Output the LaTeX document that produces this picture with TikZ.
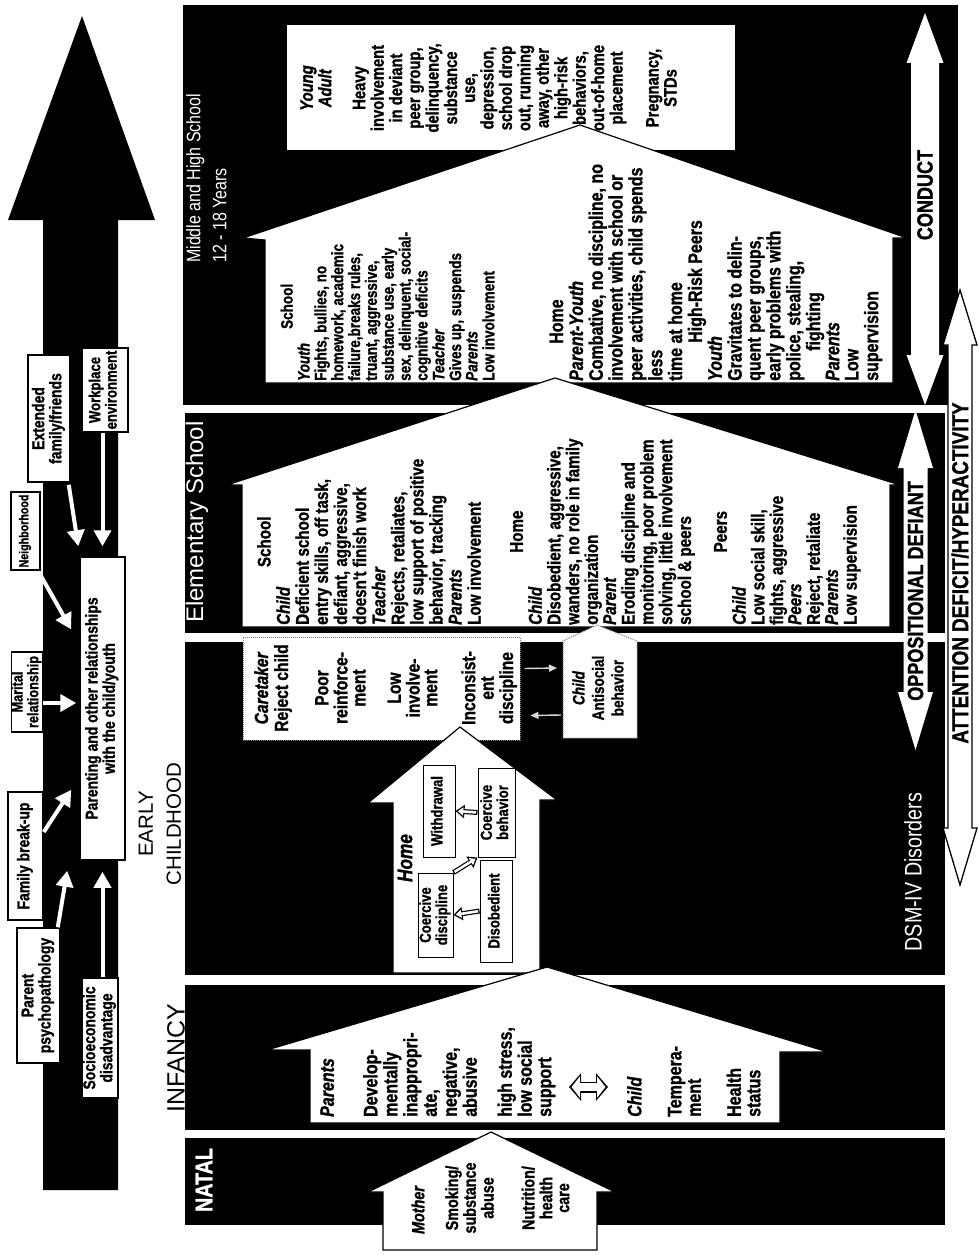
\documentclass[tikz,border=0pt]{standalone}
\usepackage{fontspec}
\setmainfont{Liberation Sans}
\newfontfamily\nar[FakeStretch=0.82,BoldFeatures={FakeBold=1.2},BoldItalicFeatures={FakeBold=1.2}]{Liberation Sans}
\usepackage{graphicx}
\usetikzlibrary{arrows.meta,calc}

% rotated, centred label used inside the framed boxes
\newcommand\rt[1]{\rotatebox{90}{\begin{tabular}{@{}c@{}}#1\end{tabular}}}
% text block: size, leading, column type, rows
\newcommand\tbl[4]{{\fontsize{#1}{#2}\selectfont\begin{tabular}{@{}#3@{}}#4\end{tabular}}}
\newcommand\hd[1]{\multicolumn{1}{@{}c@{}}{#1}}
\newcommand\who[1]{\textit{#1}}

\begin{document}
\begin{tikzpicture}[x=1pt,y=-1pt,
  fbox/.style={draw=black,line width=1.5pt,fill=white,inner sep=0pt,
    font=\nar\bfseries\fontsize{17}{16}\selectfont},
  ibox/.style={draw=black,line width=1pt,fill=white,inner sep=0pt,
    font=\nar\bfseries\fontsize{16}{15.5}\selectfont},
  warr/.style={draw=white,line width=4pt,-{Triangle[width=17pt,length=16pt]}},
  thin arr/.style={draw=white!85!black,line width=1.4pt,-{Triangle[width=7pt,length=8pt]}},
  hol/.style={draw=black,line width=5pt,-{Triangle[width=13pt,length=9pt]},
    postaction={draw=white,line width=2.6pt,shorten >=2.3pt,shorten <=1.3pt,
      -{Triangle[width=8pt,length=5.5pt]}}},
  dhol/.style={draw=black,line width=11pt,
    {Triangle[width=27pt,length=12pt]}-{Triangle[width=27pt,length=12pt]},
    postaction={draw=white,line width=8pt,shorten <=2.5pt,shorten >=2.5pt,
      {Triangle[width=21pt,length=8.5pt]}-{Triangle[width=21pt,length=8.5pt]}}},
  house/.style={fill=white,draw=black,line width=1.2pt},
  grey edge/.style={draw=black!50,line width=1pt,densely dotted},
  rtxt/.style={rotate=90,inner sep=0pt,font=\nar\bfseries},
  dsm/.style={rotate=90,inner sep=0pt,font=\nar\bfseries\fontsize{22}{22}\selectfont},
]
\useasboundingbox (0,0) rectangle (978,1255);
\fill[white] (0,0) rectangle (978,1255);

% ===== context column: big upward arrow with influences =====
\fill[black] (43,1190) -- (43,220) -- (8,220) -- (82,16) -- (155,220)
  -- (118,220) -- (118,1190) -- cycle;

\node[fbox,minimum width=42pt,minimum height=127pt] (ext) at (49,418.5) {\rt{Extended\\family/friends}};
\node[fbox,minimum width=46pt,minimum height=84pt,
  font=\nar\bfseries\fontsize{16}{16}\selectfont] (wp) at (105,390) {\rt{Workplace\\environment}};
\node[fbox,minimum width=29pt,minimum height=78pt,
  font=\nar\bfseries\fontsize{13}{13}\selectfont] (ngh) at (25.5,531) {\rt{Neighborhood}};
\node[fbox,minimum width=30pt,minimum height=80pt,
  font=\nar\bfseries\fontsize{15.5}{14.5}\selectfont] (mar) at (27,692) {\rt{Marital\\relationship}};
\node[fbox,minimum width=35pt,minimum height=128pt] (fam) at (25.5,856) {\rt{Family break-up}};
\node[fbox,minimum width=43pt,minimum height=135pt] (psy) at (38.5,995.5) {\rt{Parent\\psychopathology}};
\node[fbox,minimum width=36pt,minimum height=120pt] (soc) at (100,1038) {\rt{Socioeconomic\\disadvantage}};
\node[fbox,minimum width=45pt,minimum height=303pt,
  font=\nar\bfseries\fontsize{17}{16.5}\selectfont] (par) at (102.5,708.5)
  {\rt{Parenting and other relationships\\with the child/youth}};

\draw[warr] ($(ext.south east)+(-2,2)$) -- ($(par.north west)+(-1,-10)$);
\draw[warr] (par.north |- wp.south) -- ($(par.north)+(0,-10)$);
\draw[warr] ($(ngh.south east)+(-1,3)$) -- ($(par.west)+(-8,-79)$);
\draw[warr] ($(mar.east)+(0,11)$) -- ($(mar.east -| par.west)+(-3,11)$);
\draw[warr] ($(fam.east)+(0,-24)$) -- ($(par.south west)+(-8,-71)$);
\draw[warr] ($(psy.north east)+(-3,0)$) -- ($(par.south west)+(-12,10)$);
\draw[warr] (par.south |- soc.north) -- ($(par.south)+(0,11)$);

% ===== developmental stages =====
\fill[black] (183,5) rectangle (958,405);
\fill[black] (185,413) rectangle (945,633);
\fill[black] (185,642) rectangle (945,975);
\fill[black] (185,985) rectangle (945,1130);
\fill[black] (185,1138) rectangle (945,1225);

\node[rotate=90,text=white,font=\nar\bfseries\fontsize{24}{24}\selectfont] (lnatal) at (204,1180) {NATAL};
\node[rotate=90,font=\fontsize{25}{25}\selectfont] (linf) at (176,1058) {INFANCY};
\node[rotate=90,align=center,font=\fontsize{20.5}{28}\selectfont] (learly) at (160,824) {EARLY\\CHILDHOOD};
\node[rotate=90,text=white,font=\fontsize{24}{24}\selectfont] (lelem) at (197,522) {Elementary School};
\node[rotate=90,text=white,anchor=north west,inner sep=0pt,font=\nar] (lmid) at (182,263)
  {\tbl{19.5}{26}{l}{Middle and High School\\12 - 18 Years}};

% --- middle and high school
\node[fill=white,minimum width=448pt,minimum height=125pt,inner sep=0pt] (ya) at (511,87.5) {};
\filldraw[house] (265,383) -- (265,240) -- (243,238) -- (580,125) -- (907,238)
  -- (893,238) -- (893,383) -- cycle;
\node[rtxt,anchor=north] (yat) at (300,88) {\tbl{18}{18}{c}{\who{Young}\\\who{Adult}\\[16pt]Heavy\\involvement\\in deviant\\peer group,\\delinquency,\\substance\\use,\\depression,\\school drop\\out, running\\away, other\\high-risk\\behaviors,\\out-of-home\\placement\\[18pt]Pregnancy,\\STDs}};
\node[rtxt,anchor=north west] (msch) at (280.5,381) {\tbl{16.5}{16.3}{l}{\hd{School}\\\who{Youth}\\Fights, bullies, no\\homework, academic\\failure,breaks rules,\\truant, aggressive,\\substance use, early\\sex, delinquent, social-\\cognitive deficits\\\who{Teacher}\\Gives up, suspends\\\who{Parents}\\Low involvement}};
\node[rtxt,anchor=north west] (mhome) at (549.5,381) {\tbl{19.5}{19}{l}{\hspace*{37pt}Home\\\who{Parent-Youth}\\Combative, no discipline, no\\involvement with school or\\peer activities, child spends\\less\\time at home\\\hspace*{38pt}High-Risk Peers\\\who{Youth}\\Gravitates to delin-\\quent peer groups,\\early problems with\\police, stealing,\\\hspace*{30pt}fighting\\\who{Parents}\\Low\\supervision}};

% --- elementary school
\filldraw[house] (242,627) -- (242,485) -- (227,485) -- (555,378) -- (900,485)
  -- (890,485) -- (890,627) -- cycle;
\node[rtxt,anchor=north west] (eschool) at (257,625) {\tbl{18.5}{19}{l}{\hd{School}\\\who{Child}\\Deficient school\\entry skills, off task,\\defiant, aggressive,\\doesn't finish work\\\who{Teacher}\\Rejects, retaliates,\\low support of positive\\behavior, tracking\\\who{Parents}\\Low involvement}};
\node[rtxt,anchor=north west] (ehome) at (510,625) {\tbl{18.5}{17.8}{l}{\hd{Home}\\\who{Child}\\Disobedient, aggressive,\\wanders, no role in family\\organization\\\who{Parent}\\Eroding discipline and\\monitoring, poor problem\\solving, little involvement\\school \& peers\\[17.8pt]\hd{Peers}\\\who{Child}\\Low social skill,\\fights, aggressive\\\who{Peers}\\Reject, retaliate\\\who{Parents}\\Low supervision}};

% --- early childhood
\node[grey edge,fill=white,minimum width=277pt,minimum height=103pt,inner sep=0pt] (care) at (381.5,688.5) {};
\filldraw[fill=white,grey edge] (563,738) -- (563,641) -- (597,625) -- (637,641) -- (637,738) -- cycle;
\coordinate (chw) at (563,688);
\filldraw[house] (393,973) -- (393,803) -- (368,803) -- (460,727) -- (557,800)
  -- (540,800) -- (540,973) -- cycle;

\node[rtxt] (ct1) at (274,688) {\tbl{19}{20}{c}{\who{Caretaker}\\Reject child}};
\node[rtxt] (ct2) at (343,688) {\tbl{19}{18}{c}{Poor\\reinforce-\\ment}};
\node[rtxt] (ct3) at (415,688) {\tbl{19}{17}{c}{Low\\involve-\\ment}};
\node[rtxt] (ct4) at (490,688) {\tbl{19}{18.5}{c}{Inconsist-\\ent\\discipline}};
\node[rtxt] (cht) at (600,688) {\tbl{16.5}{19.5}{c}{\who{Child}\\Antisocial\\behavior}};
\draw[thin arr] ($(care.east)+(4,-20)$) -- ($(chw)+(-6,-20)$);
\draw[thin arr] ($(chw)+(-2,27)$) -- ($(care.east)+(10,27)$);

\node[rtxt,font=\nar\bfseries\itshape\fontsize{21}{21}\selectfont] (homet) at (405,858) {Home};
\node[ibox,minimum width=32pt,minimum height=92pt] (wd) at (439,811) {\rt{Withdrawal}};
\node[ibox,minimum width=37pt,minimum height=89pt] (cb) at (496.5,812.5) {\rt{Coercive\\behavior}};
\node[ibox,minimum width=35pt,minimum height=84pt] (cd) at (435.5,915) {\rt{Coercive\\discipline}};
\node[ibox,minimum width=32pt,minimum height=102pt] (dis) at (496,911) {\rt{Disobedient}};
\draw[hol] (cb.west) -- (wd.east);
\draw[hol] (dis.west) -- (cd.east);
\draw[hol] (cd.north east) -- (cb.south west);

% --- infancy
\filldraw[house] (310,1123) -- (310,1050) -- (267,1050) -- (547,967) -- (828,1052)
  -- (780,1052) -- (780,1123) -- cycle;
\node[rtxt,anchor=north west] (inf1) at (320,1117) {\tbl{19.5}{19.5}{l}{\who{Parents}\\[23.5pt]Develop-\\mentally\\inappropri-\\ate,\\negative,\\abusive\\[15pt]high stress,\\low social\\support}};
\coordinate (ia) at (569,1087);
\coordinate (ib) at (608,1087);
\draw[dhol] (ia) -- (ib);
\node[rtxt,anchor=north west] (inf2) at (627,1117) {\tbl{19.5}{19.5}{l}{\who{Child}\\[20.5pt]Tempera-\\ment\\[20pt]Health\\status}};

% --- natal
\filldraw[house] (383,1250) -- (383,1192) -- (368,1192) -- (491,1132) -- (615,1192)
  -- (597,1192) -- (597,1250) -- cycle;
\node[rtxt,font=\nar\bfseries\itshape\fontsize{17.5}{17}\selectfont] (nm) at (418,1210) {Mother};
\node[rtxt] (ns) at (472,1198) {\tbl{17.5}{17}{c}{Smoking/\\substance\\abuse}};
\node[rtxt] (nn) at (548,1198) {\tbl{17.5}{17}{c}{Nutrition/\\health\\care}};

% ===== DSM-IV disorders =====
\fill[white] (925,13) -- (943.5,63) -- (939,63) -- (939,355) -- (943.5,355) -- (925,405)
  -- (906.5,355) -- (911,355) -- (911,63) -- (906.5,63) -- cycle;
\node[dsm] (cond) at (925,195) {CONDUCT};
\fill[white] (915.5,410) -- (933,468) -- (927.5,468) -- (927.5,692) -- (933,692) -- (915.5,750)
  -- (898,692) -- (903.5,692) -- (903.5,468) -- (898,468) -- cycle;
\node[dsm] (opp) at (915.5,591) {OPPOSITIONAL DEFIANT};
\filldraw[fill=white,draw=black,line width=1.3pt] (960,290) -- (977,345) -- (972,345) -- (972,828)
  -- (977,828) -- (960,885) -- (943,828) -- (948,828) -- (948,345) -- (943,345) -- cycle;
\node[dsm,font=\nar\bfseries\fontsize{23}{23}\selectfont] (att) at (960,573) {ATTENTION DEFICIT/HYPERACTIVITY};
\node[rotate=90,inner sep=0pt,text=white,font=\nar\fontsize{24}{24}\selectfont] (dsmlab) at (913,872) {DSM-IV Disorders};
\end{tikzpicture}
\end{document}
